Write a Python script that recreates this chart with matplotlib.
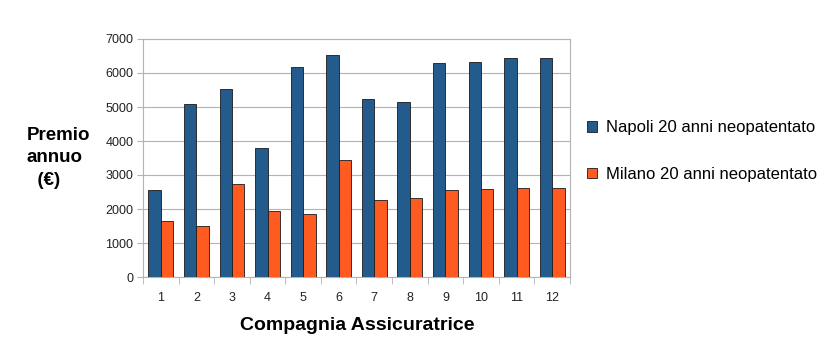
import numpy as np
import matplotlib.pyplot as plt
from matplotlib.patches import Patch

plt.rcParams['font.family'] = ['Liberation Sans', 'DejaVu Sans']

companies = [str(i) for i in range(1, 13)]
napoli = [2550, 5090, 5540, 3800, 6190, 6540, 5250, 5160, 6290, 6320, 6450, 6450]
milano = [1650, 1510, 2745, 1940, 1840, 3450, 2265, 2320, 2550, 2580, 2610, 2610]
labels = ['Napoli 20 anni neopatentato', 'Milano 20 anni neopatentato']
colors = ['#245b8d', '#ff5a1f']

fig = plt.figure(figsize=(8.29, 3.54), dpi=100)
ax = fig.add_axes([143 / 829, 1 - 277 / 354, (570 - 143) / 829, (277 - 39) / 354])

x = np.arange(len(companies))
w = 0.35
ax.bar(x - w / 2, napoli, w, color=colors[0], edgecolor='#1a1a1a', linewidth=0.6, zorder=3)
ax.bar(x + w / 2, milano, w, color=colors[1], edgecolor='#1a1a1a', linewidth=0.6, zorder=3)

ax.set_xlim(-0.5, len(companies) - 0.5)
ax.set_ylim(0, 7000)
ax.set_yticks(range(0, 7001, 1000))
ax.yaxis.grid(True, color='#b3b3b3', linewidth=0.8, zorder=0)
ax.set_xticks(x)
ax.set_xticklabels(companies)
ax.set_xticks(np.arange(-0.5, len(companies), 1), minor=True)
ax.tick_params(axis='x', which='major', length=0, pad=11, labelsize=9, labelcolor='#222222')
ax.tick_params(axis='x', which='minor', length=5, color='#b3b3b3', direction='out')
ax.tick_params(axis='y', length=4, color='#b3b3b3', labelsize=9, labelcolor='#222222', pad=3)
for s in ax.spines.values():
    s.set_color('#b3b3b3')
    s.set_linewidth(0.8)

fig.text(357 / 829, 1 - 326 / 354, 'Compagnia Assicuratrice', ha='center', va='center',
         fontsize=14, fontweight='bold')
fig.text(27 / 829, 1 - 158 / 354, 'Premio\nannuo\n  (€)', ha='left', va='center',
         fontsize=13.5, fontweight='bold', linespacing=1.45)

handles = [Patch(facecolor=c, edgecolor='#1a1a1a', linewidth=0.6) for c in colors]
fig.legend(handles, labels, loc='center left', bbox_to_anchor=(572 / 829, 1 - 151 / 354),
           frameon=False, fontsize=12, handlelength=0.6, handleheight=0.6,
           handletextpad=0.55, labelspacing=1.9)

fig.savefig('out.png', dpi=100)
